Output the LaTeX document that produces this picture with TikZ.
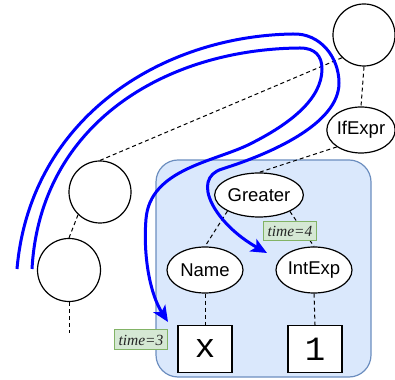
\documentclass[tikz,border=0pt]{standalone}
\usepackage{fontspec}
\setmainfont{Liberation Serif}
\setsansfont{Liberation Sans}
\setmonofont{Liberation Mono}
\usetikzlibrary{shapes.geometric,arrows.meta}
\definecolor{grpfill}{HTML}{DAE8FC}
\definecolor{grpdraw}{HTML}{6C8EBF}
\definecolor{lblfill}{HTML}{D5E8D4}
\definecolor{lbldraw}{HTML}{82B366}
\definecolor{flowblue}{HTML}{0000FF}
\tikzset{
  circnode/.style={circle,draw=black,fill=white,line width=1.2pt,inner sep=0pt},
  ellnode/.style={ellipse,draw=black,fill=white,line width=1.2pt,inner sep=0pt,
    minimum width=76pt,minimum height=46pt,font=\sffamily\fontsize{18.5}{21}\selectfont},
  valbox/.style={rectangle,draw=black,fill=white,line width=1.4pt,inner sep=0pt,
    minimum width=54pt,minimum height=47pt,font=\ttfamily\fontsize{34}{36}\selectfont},
  timelbl/.style={rectangle,draw=lbldraw,fill=lblfill,line width=1pt,inner sep=0pt,
    minimum width=53pt,minimum height=20pt,text=black!85,font=\itshape\fontsize{15.5}{17}\selectfont},
  treeedge/.style={draw=black,line width=1pt,dash pattern=on 4pt off 3pt},
  flow/.style={draw=flowblue,line width=3pt,
    -{Stealth[length=16pt,width=14pt,inset=4pt]}},
}
\begin{document}
\begin{tikzpicture}[x=1pt,y=1pt]
\useasboundingbox (0,0) rectangle (395,379);
% group background
\draw[fill=grpfill,draw=grpdraw,line width=1.2pt,rounded corners=22pt]
  (156,2) rectangle (371,219);
% nodes
\node[circnode,minimum size=62pt] (top) at (364,344) {};
\node[ellnode,minimum width=68pt] (ifexpr) at (361,249) {IfExpr};
\node[circnode,minimum size=62pt] (c1) at (100,187) {};
\node[circnode,minimum size=63pt] (c2) at (69,109) {};
\coordinate (c2end) at (69,46);
\node[ellnode,minimum height=44pt] (greater) at (259,184) {Greater};
\node[ellnode] (name) at (205,109) {Name};
\node[ellnode] (intexp) at (314,109) {IntExp};
\node[valbox] (xbox) at (205,30) {x};
\node[valbox] (onebox) at (315,30) {1};
% tree edges
\draw[treeedge] (top.south) -- (ifexpr.north);
\draw[treeedge] (top.226) -- (c1.north);
\draw[treeedge] (c1.226) -- (c2.north);
\draw[treeedge] (c2.south) -- (c2end);
\draw[treeedge] (ifexpr.215) -- (greater.north);
\draw[treeedge] (greater.207) -- (name.north);
\draw[treeedge] (greater.332) -- (intexp.north);
\draw[treeedge] (name.south) -- (xbox.north);
\draw[treeedge] (intexp.south) -- (onebox.north);
% flow arrows
\coordinate (s4) at (17,110);
\coordinate (e4) at (267,126);
\coordinate (s3) at (32,110);
\coordinate (e3) at (168,57);
\draw[flow] (s4) .. controls (30,260) and (160,343) .. (293,345)
  .. controls (320,346) and (339,322) .. (339,296)
  .. controls (339,255) and (270,225) .. (222,210)
  .. controls (190,200) and (215,155) .. (e4);
\draw[flow] (s3) .. controls (40,255) and (165,330) .. (300,331)
  .. controls (315,331) and (322,323) .. (322,310)
  .. controls (322,280) and (290,255) .. (250,235)
  .. controls (214,217) and (150,210) .. (146,160)
  .. controls (143,123) and (150,85) .. (e3);
% time labels
\node[timelbl] (t3) at (141,39) {time=3};
\node[timelbl,minimum height=19pt] (t4) at (290,148) {time=4};
\end{tikzpicture}
\end{document}
